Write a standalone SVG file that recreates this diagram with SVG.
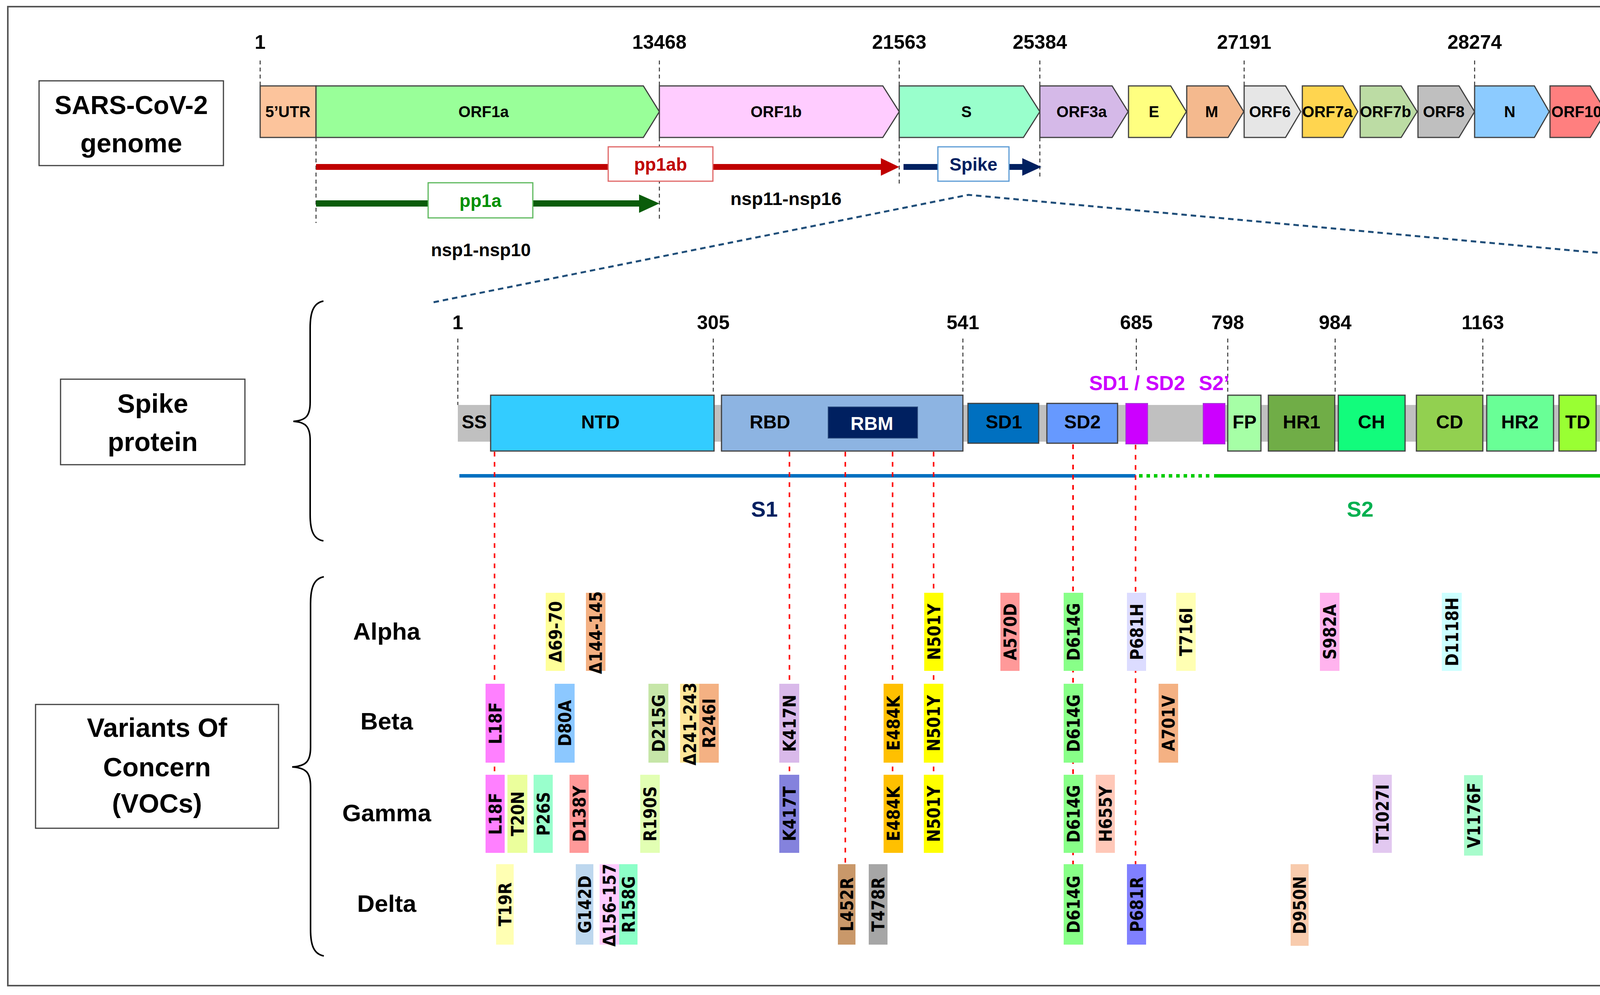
<svg xmlns="http://www.w3.org/2000/svg" width="4363" height="2548" viewBox="0 0 4363 2548">
<style>
.lbl{font-family:"Liberation Sans",Arial,sans-serif;font-weight:bold;text-anchor:middle;fill:#000}
.num{font-family:"Liberation Sans",Arial,sans-serif;font-weight:bold;text-anchor:middle;font-size:50px;fill:#000}
.gene{stroke:#404040;stroke-width:3}
.gt{font-family:"Liberation Sans",Arial,sans-serif;font-weight:bold;text-anchor:middle;font-size:40px;fill:#000}
.dom{stroke:#404040;stroke-width:3}
.dt{font-family:"Liberation Sans",Arial,sans-serif;font-weight:bold;text-anchor:middle;font-size:48px;fill:#000}
.tick{stroke:#333;stroke-width:2.5;stroke-dasharray:10 8;fill:none}
.red{stroke:#ff0000;stroke-width:4;stroke-dasharray:12 14;fill:none}
.box{fill:#fff;stroke:#404040;stroke-width:3}
.m{font-family:"DejaVu Sans Condensed","DejaVu Sans",sans-serif;font-stretch:condensed;font-weight:bold;font-size:44px;text-anchor:middle;fill:#000}
.brace{fill:none;stroke:#000;stroke-width:4}
</style>
<rect x="20" y="17" width="4316" height="2507" fill="#fff" stroke="#555" stroke-width="4"/>

<!-- Title boxes -->
<g id="genome-label"><rect class="box" x="100" y="207" width="472" height="217"/><text class="lbl" x="336" y="292" font-size="66">SARS-CoV-2</text><text class="lbl" x="336" y="390" font-size="68">genome</text></g>
<g id="spike-label"><rect class="box" x="155" y="971" width="472" height="219"/><text class="lbl" x="391" y="1057" font-size="68">Spike</text><text class="lbl" x="391" y="1155" font-size="68">protein</text></g>
<g id="voc-label"><rect class="box" x="91" y="1804" width="622" height="317"/><text class="lbl" x="402" y="1887" font-size="68">Variants Of</text><text class="lbl" x="402" y="1988" font-size="68">Concern</text><text class="lbl" x="402" y="2081" font-size="68">(VOCs)</text></g>

<!-- Braces -->
<g id="braces">
<path class="brace" d="M828,771 C802,776 794,800 794,840 L794,1030 C794,1066 782,1077 751,1079 C782,1081 794,1092 794,1128 L794,1318 C794,1358 802,1381 828,1385"/>
<path class="brace" d="M829,1477 C803,1482 795,1506 795,1546 L795,1914 C795,1950 783,1962 748,1964 C783,1966 795,1978 795,2014 L795,2380 C795,2420 803,2443 829,2448"/>
</g>

<!-- Genome numbers and ticks -->
<g id="genome-scale">
<text class="num" x="666" y="125">1</text>
<text class="num" x="1688" y="125">13468</text>
<text class="num" x="2302" y="125">21563</text>
<text class="num" x="2662" y="125">25384</text>
<text class="num" x="3185" y="125">27191</text>
<text class="num" x="3775" y="125">28274</text>
<text class="num" x="4257" y="125">29903</text>
<path class="tick" d="M666,155V220 M1688,155V220 M2302,155V220 M2662,155V220 M3185,155V220 M3775,155V220 M4257,155V220 M809,352V571 M1688,352V565 M2302,352V471 M2662,352V460"/>
</g>

<!-- Genome genes -->
<g id="genes">
<g id="g-5utr"><rect class="gene" x="666" y="220" width="143" height="132" fill="#fcc49c"/><text class="gt" x="737" y="300">5’UTR</text></g>
<g id="g-orf1a"><polygon class="gene" points="809,220 1647,220 1688,286 1647,352 809,352" fill="#99ff99"/><text class="gt" x="1238" y="300">ORF1a</text></g>
<g id="g-orf1b"><polygon class="gene" points="1688,220 2260,220 2302,286 2260,352 1688,352" fill="#ffccff"/><text class="gt" x="1987" y="300">ORF1b</text></g>
<g id="g-s"><polygon class="gene" points="2302,220 2620,220 2662,286 2620,352 2302,352" fill="#99ffcc"/><text class="gt" x="2474" y="300">S</text></g>
<g id="g-orf3a"><polygon class="gene" points="2662,220 2847,220 2888,286 2847,352 2662,352" fill="#d5b9e8"/><text class="gt" x="2769" y="300">ORF3a</text></g>
<g id="g-e"><polygon class="gene" points="2889,220 2997,220 3037,286 2997,352 2889,352" fill="#ffff80"/><text class="gt" x="2954" y="300">E</text></g>
<g id="g-m"><polygon class="gene" points="3038,220 3144,220 3184,286 3144,352 3038,352" fill="#f4b98e"/><text class="gt" x="3102" y="300">M</text></g>
<g id="g-orf6"><polygon class="gene" points="3185,220 3291,220 3330,286 3291,352 3185,352" fill="#e6e6e6"/><text class="gt" x="3251" y="300">ORF6</text></g>
<g id="g-orf7a"><polygon class="gene" points="3334,220 3438,220 3476,286 3438,352 3334,352" fill="#ffd54f"/><text class="gt" x="3398" y="300">ORF7a</text></g>
<g id="g-orf7b"><polygon class="gene" points="3482,220 3587,220 3628,286 3587,352 3482,352" fill="#bcdca4"/><text class="gt" x="3547" y="300">ORF7b</text></g>
<g id="g-orf8"><polygon class="gene" points="3630,220 3735,220 3775,286 3735,352 3630,352" fill="#bfbfbf"/><text class="gt" x="3696" y="300">ORF8</text></g>
<g id="g-n"><polygon class="gene" points="3775,220 3928,220 3966,286 3928,352 3775,352" fill="#8ccbff"/><text class="gt" x="3865" y="300">N</text></g>
<g id="g-orf10"><polygon class="gene" points="3968,220 4071,220 4111,286 4071,352 3968,352" fill="#ff7f7f"/><text class="gt" x="4036" y="300">ORF10</text></g>
<g id="g-3utr"><rect class="gene" x="4112" y="220" width="145" height="132" fill="#8cff8c"/><text class="gt" x="4186" y="300">3’UTR</text></g>
</g>

<!-- Polyprotein arrows -->
<g id="polyproteins">
<g id="pp1ab"><rect x="809" y="420" width="1450" height="15" fill="#c00000"/><polygon points="2255,405 2302,427.5 2255,450" fill="#c00000"/><rect x="1557" y="376" width="268" height="88" fill="#fff" stroke="#e06666" stroke-width="3"/><text class="lbl" x="1691" y="437" font-size="46" fill="#c00000" style="fill:#c00000">pp1ab</text></g>
<g id="pp1a"><rect x="809" y="513" width="830" height="16" fill="#0a5c0a"/><polygon points="1636,498 1688,521 1636,545" fill="#0a5c0a"/><rect x="1096" y="468" width="268" height="90" fill="#fff" stroke="#5cb85c" stroke-width="3"/><text class="lbl" x="1230" y="530" font-size="46" style="fill:#009000">pp1a</text></g>
<g id="spike-arrow"><rect x="2313" y="420" width="306" height="15" fill="#002060"/><polygon points="2617,405 2666,427.5 2617,450" fill="#002060"/><rect x="2401" y="376" width="182" height="88" fill="#fff" stroke="#5b9bd5" stroke-width="3"/><text class="lbl" x="2492" y="437" font-size="46" style="fill:#002060">Spike</text></g>
<text class="lbl" x="1231" y="656" font-size="46">nsp1-nsp10</text>
<text class="lbl" x="2012" y="525" font-size="47">nsp11-nsp16</text>
</g>

<!-- Projection lines -->
<g id="zoom-lines"><path d="M1110,774 L2479,499 L4260,663" fill="none" stroke="#1f4e79" stroke-width="5" stroke-dasharray="14 10"/></g>

<!-- Spike scale -->
<g id="spike-scale">
<text class="num" x="1172" y="843" font-size="53">1</text>
<text class="num" x="1826" y="843" font-size="53">305</text>
<text class="num" x="2465" y="843" font-size="53">541</text>
<text class="num" x="2909" y="843" font-size="53">685</text>
<text class="num" x="3143" y="843" font-size="53">798</text>
<text class="num" x="3418" y="843" font-size="53">984</text>
<text class="num" x="3796" y="843" font-size="53">1163</text>
<text class="num" x="4189" y="843" font-size="53">1282</text>
<path class="tick" d="M1172,867V1037 M1826,867V1012 M2465,867V1012 M2909,867V948 M3143,867V1012 M3418,867V1012 M3796,867V1012 M4189,867V1037"/>
<text class="lbl" x="2911" y="999" font-size="52" style="fill:#cc00ff">SD1 / SD2</text>
<text class="lbl" x="3108" y="999" font-size="52" style="fill:#cc00ff">S2’</text>
</g>

<!-- Spike domains -->
<g id="spike-domains">
<rect id="backbone" x="1172" y="1037" width="3019" height="94" fill="#c0c0c0"/>
<g id="d-ss"><text class="dt" x="1214" y="1097">SS</text></g>
<g id="d-ntd"><rect class="dom" x="1256" y="1012" width="572" height="143" fill="#33ccff"/><text class="dt" x="1537" y="1097">NTD</text></g>
<g id="d-rbd"><rect class="dom" x="1847" y="1012" width="618" height="143" fill="#8db4e2"/><text class="dt" x="1971" y="1097">RBD</text></g>
<g id="d-rbm"><rect x="2120" y="1042" width="229" height="80" fill="#002060" stroke="#2f4f80" stroke-width="2"/><text class="dt" x="2232" y="1101" style="fill:#fff">RBM</text></g>
<g id="d-sd1"><rect class="dom" x="2478" y="1033" width="181" height="102" fill="#0070c0" stroke="#1a1a1a"/><text class="dt" x="2570" y="1097">SD1</text></g>
<g id="d-sd2"><rect class="dom" x="2680" y="1033" width="181" height="102" fill="#6699ff" stroke="#1a1a1a"/><text class="dt" x="2771" y="1097">SD2</text></g>
<rect id="cleave1" x="2882" y="1033" width="56" height="104" fill="#cc00ff" stroke="#a040d0" stroke-width="2"/>
<rect id="cleave2" x="3080" y="1033" width="56" height="104" fill="#cc00ff" stroke="#a040d0" stroke-width="2"/>
<g id="d-fp"><rect class="dom" x="3143" y="1012" width="85" height="143" fill="#a6ffa6"/><text class="dt" x="3186" y="1097">FP</text></g>
<g id="d-hr1"><rect class="dom" x="3247" y="1012" width="170" height="143" fill="#70ad47"/><text class="dt" x="3332" y="1097">HR1</text></g>
<g id="d-ch"><rect class="dom" x="3426" y="1012" width="171" height="143" fill="#12fc7c"/><text class="dt" x="3511" y="1097">CH</text></g>
<g id="d-cd"><rect class="dom" x="3626" y="1012" width="170" height="143" fill="#92d050"/><text class="dt" x="3711" y="1097">CD</text></g>
<g id="d-hr2"><rect class="dom" x="3806" y="1012" width="171" height="143" fill="#69ff96"/><text class="dt" x="3891" y="1097">HR2</text></g>
<g id="d-td"><rect class="dom" x="3991" y="1012" width="95" height="143" fill="#99ff33"/><text class="dt" x="4039" y="1097">TD</text></g>
<g id="d-ct"><text class="dt" x="4142" y="1097">CT</text></g>
</g>

<!-- S1 / S2 -->
<g id="subunits">
<rect x="1176" y="1214" width="1731" height="9" fill="#0070c0"/>
<line x1="2916" y1="1218.5" x2="3100" y2="1218.5" stroke="#00cc00" stroke-width="9" stroke-dasharray="9 10"/>
<rect x="3108" y="1214" width="1081" height="9" fill="#00c800"/>
<text class="lbl" x="1957" y="1323" font-size="56" style="fill:#002060">S1</text>
<text class="lbl" x="3482" y="1323" font-size="56" style="fill:#00b050">S2</text>
</g>

<!-- Connectors (red dashed) -->
<g id="connectors">
<path class="red" d="M1266,1157V1984 M2021,1157V1984 M2164,1157V2213 M2285,1157V1984 M2390,1157V1984 M2747,1138V2213 M2907,1139V2213"/>
</g>

<!-- Variant row labels -->
<g id="rows">
<text class="lbl" x="990" y="1638" font-size="62">Alpha</text>
<text class="lbl" x="990" y="1868" font-size="62">Beta</text>
<text class="lbl" x="990" y="2103" font-size="62">Gamma</text>
<text class="lbl" x="990" y="2335" font-size="62">Delta</text>
</g>

<!-- Alpha mutations -->
<g id="alpha">
<g id="a-d69"><rect x="1397" y="1518" width="49" height="200" fill="#ffff99"/><text class="m" transform="translate(1438,1618) rotate(-90)">Δ69-70</text></g>
<g id="a-d144"><rect x="1500" y="1518" width="50" height="200" fill="#f4b183"/><text class="m" transform="translate(1541,1620) rotate(-90)">Δ144-145</text></g>
<g id="a-n501y"><rect x="2366" y="1518" width="49" height="200" fill="#ffff00"/><text class="m" transform="translate(2407,1618) rotate(-90)">N501Y</text></g>
<g id="a-a570d"><rect x="2561" y="1518" width="49" height="200" fill="#ff9999"/><text class="m" transform="translate(2602,1618) rotate(-90)">A570D</text></g>
<g id="a-d614g"><rect x="2723" y="1518" width="50" height="200" fill="#88ff88"/><text class="m" transform="translate(2764,1618) rotate(-90)">D614G</text></g>
<g id="a-p681h"><rect x="2885" y="1518" width="49" height="200" fill="#dcdcff"/><text class="m" transform="translate(2926,1618) rotate(-90)">P681H</text></g>
<g id="a-t716i"><rect x="3011" y="1518" width="50" height="200" fill="#ffffb3"/><text class="m" transform="translate(3052,1618) rotate(-90)">T716I</text></g>
<g id="a-s982a"><rect x="3379" y="1518" width="50" height="200" fill="#ffb3ee"/><text class="m" transform="translate(3420,1618) rotate(-90)">S982A</text></g>
<g id="a-d1118h"><rect x="3691" y="1518" width="51" height="200" fill="#ccffff"/><text class="m" transform="translate(3733,1618) rotate(-90)">D1118H</text></g>
</g>

<!-- Beta mutations -->
<g id="beta">
<g id="b-l18f"><rect x="1243" y="1751" width="49" height="202" fill="#ff80ff"/><text class="m" transform="translate(1284,1852) rotate(-90)">L18F</text></g>
<g id="b-d80a"><rect x="1420" y="1751" width="51" height="202" fill="#8cc8ff"/><text class="m" transform="translate(1462,1852) rotate(-90)">D80A</text></g>
<g id="b-d215g"><rect x="1660" y="1751" width="51" height="202" fill="#c6e6a8"/><text class="m" transform="translate(1702,1852) rotate(-90)">D215G</text></g>
<g id="b-d241"><rect x="1741" y="1751" width="49" height="202" fill="#ffe699"/><text class="m" transform="translate(1782,1854) rotate(-90)">Δ241-243</text></g>
<g id="b-r246i"><rect x="1790" y="1751" width="50" height="202" fill="#f4b183"/><text class="m" transform="translate(1831,1852) rotate(-90)">R246I</text></g>
<g id="b-k417n"><rect x="1995" y="1751" width="51" height="202" fill="#d9b9ea"/><text class="m" transform="translate(2037,1852) rotate(-90)">K417N</text></g>
<g id="b-e484k"><rect x="2262" y="1751" width="50" height="202" fill="#ffc000"/><text class="m" transform="translate(2303,1852) rotate(-90)">E484K</text></g>
<g id="b-n501y"><rect x="2365" y="1751" width="50" height="202" fill="#ffff00"/><text class="m" transform="translate(2406,1852) rotate(-90)">N501Y</text></g>
<g id="b-d614g"><rect x="2723" y="1751" width="50" height="202" fill="#88ff88"/><text class="m" transform="translate(2764,1852) rotate(-90)">D614G</text></g>
<g id="b-a701v"><rect x="2966" y="1751" width="50" height="202" fill="#f4b183"/><text class="m" transform="translate(3007,1852) rotate(-90)">A701V</text></g>
</g>

<!-- Gamma mutations -->
<g id="gamma">
<g id="c-l18f"><rect x="1243" y="1984" width="49" height="200" fill="#ff80ff"/><text class="m" transform="translate(1284,2084) rotate(-90)">L18F</text></g>
<g id="c-t20n"><rect x="1299" y="1984" width="51" height="200" fill="#ebff9c"/><text class="m" transform="translate(1341,2084) rotate(-90)">T20N</text></g>
<g id="c-p26s"><rect x="1366" y="1984" width="49" height="200" fill="#99ffcc"/><text class="m" transform="translate(1407,2084) rotate(-90)">P26S</text></g>
<g id="c-d138y"><rect x="1458" y="1984" width="49" height="200" fill="#ff9999"/><text class="m" transform="translate(1499,2084) rotate(-90)">D138Y</text></g>
<g id="c-r190s"><rect x="1639" y="1984" width="50" height="200" fill="#e2ffb3"/><text class="m" transform="translate(1680,2084) rotate(-90)">R190S</text></g>
<g id="c-k417t"><rect x="1995" y="1984" width="51" height="200" fill="#8482dd"/><text class="m" transform="translate(2037,2084) rotate(-90)">K417T</text></g>
<g id="c-e484k"><rect x="2262" y="1984" width="50" height="200" fill="#ffc000"/><text class="m" transform="translate(2303,2084) rotate(-90)">E484K</text></g>
<g id="c-n501y"><rect x="2365" y="1984" width="50" height="200" fill="#ffff00"/><text class="m" transform="translate(2406,2084) rotate(-90)">N501Y</text></g>
<g id="c-d614g"><rect x="2723" y="1984" width="50" height="200" fill="#88ff88"/><text class="m" transform="translate(2764,2084) rotate(-90)">D614G</text></g>
<g id="c-h655y"><rect x="2805" y="1984" width="49" height="200" fill="#ffc8b8"/><text class="m" transform="translate(2846,2084) rotate(-90)">H655Y</text></g>
<g id="c-t1027i"><rect x="3514" y="1984" width="49" height="200" fill="#e2c8f0"/><text class="m" transform="translate(3555,2084) rotate(-90)">T1027I</text></g>
<g id="c-v1176f"><rect x="3748" y="1985" width="48" height="206" fill="#a8fccc"/><text class="m" transform="translate(3789,2088) rotate(-90)">V1176F</text></g>
</g>

<!-- Delta mutations -->
<g id="delta">
<g id="d-t19r"><rect x="1270" y="2213" width="45" height="206" fill="#ffffb3"/><text class="m" transform="translate(1309,2316) rotate(-90)">T19R</text></g>
<g id="d-g142d"><rect x="1474" y="2213" width="45" height="206" fill="#bdd7ee"/><text class="m" transform="translate(1513,2316) rotate(-90)">G142D</text></g>
<g id="d-d156"><rect x="1535" y="2213" width="50" height="206" fill="#ffccff"/><text class="m" transform="translate(1576,2318) rotate(-90)">Δ156-157</text></g>
<g id="d-r158g"><rect x="1585" y="2213" width="47" height="206" fill="#8cffc8"/><text class="m" transform="translate(1625,2316) rotate(-90)">R158G</text></g>
<g id="d-l452r"><rect x="2145" y="2213" width="45" height="206" fill="#c9986a"/><text class="m" transform="translate(2184,2316) rotate(-90)">L452R</text></g>
<g id="d-t478r"><rect x="2224" y="2213" width="48" height="206" fill="#a6a6a6"/><text class="m" transform="translate(2264,2316) rotate(-90)">T478R</text></g>
<g id="d-d614g"><rect x="2723" y="2213" width="50" height="206" fill="#88ff88"/><text class="m" transform="translate(2764,2316) rotate(-90)">D614G</text></g>
<g id="d-p681r"><rect x="2885" y="2213" width="49" height="206" fill="#8080ff"/><text class="m" transform="translate(2926,2316) rotate(-90)">P681R</text></g>
<g id="d-d950n"><rect x="3304" y="2213" width="46" height="209" fill="#f8cbad"/><text class="m" transform="translate(3343,2318) rotate(-90)">D950N</text></g>
</g>
</svg>
